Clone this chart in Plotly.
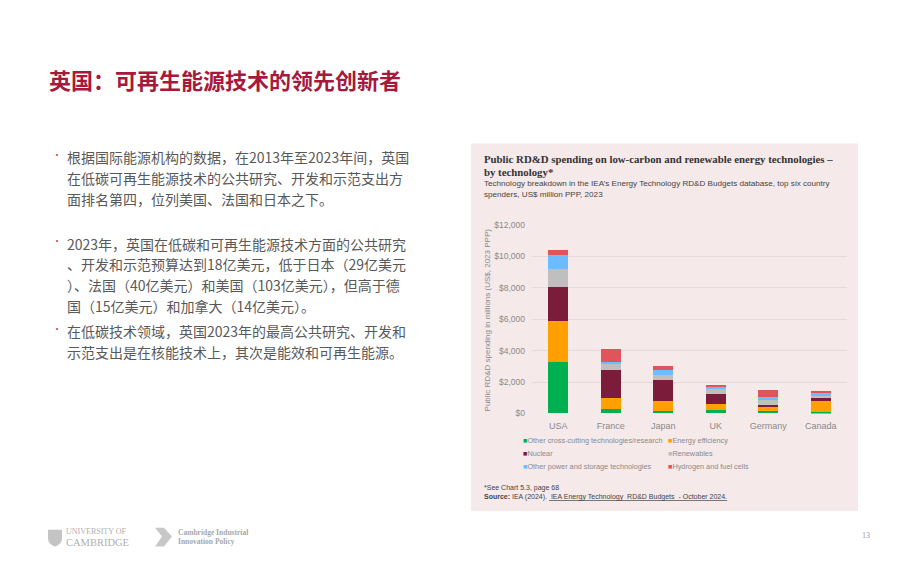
import plotly.graph_objects as go

W, H = 920, 575

countries = ["USA", "France", "Japan", "UK", "Germany", "Canada"]
series_names = [
    "Other cross-cutting technologies/research",
    "Energy efficiency",
    "Nuclear",
    "Renewables",
    "Other power and storage technologies",
    "Hydrogen and fuel cells",
]
series_colors = ["#00b050", "#ffa000", "#7b1c3a", "#bfbfbf", "#6cbcff", "#e0555a"]
other_cross = [3250, 270, 170, 250, 150, 100]
energy_eff = [2625, 690, 640, 350, 250, 690]
nuclear = [2185, 1830, 1290, 650, 140, 230]
renewables = [1150, 335, 360, 290, 290, 80]
other_power = [870, 145, 310, 130, 210, 170]
hydrogen = [320, 810, 230, 140, 460, 170]
series_values = [other_cross, energy_eff, nuclear, renewables, other_power, hydrogen]
y_ticks = [0, 2000, 4000, 6000, 8000, 10000, 12000]
y_tick_labels = ["$0", "$2,000", "$4,000", "$6,000", "$8,000", "$10,000", "$12,000"]


def px(x):
    return x / W


def py(y):
    return 1 - y / H


fig = go.Figure()
for name, color, vals in zip(series_names, series_colors, series_values):
    fig.add_trace(go.Bar(x=countries, y=vals, name=name, marker_color=color,
                         marker_line_width=0, showlegend=False))

SANS = "Liberation Sans, Arial, sans-serif"
CJK = "Noto Sans CJK SC"

fig.update_layout(
    width=W, height=H,
    margin=dict(l=0, r=0, t=0, b=0),
    paper_bgcolor="white",
    plot_bgcolor="rgba(0,0,0,0)",
    barmode="stack",
    bargap=0.62,
    xaxis=dict(domain=[px(532), px(847)], showgrid=False, zeroline=False,
               showline=False, ticks="", tickfont=dict(family=SANS, size=9, color="#8a8a8a"),
               ticklabelstandoff=6),
    yaxis=dict(domain=[py(415.7), py(223.7)], range=[0, 12000], tickvals=y_ticks,
               ticktext=y_tick_labels, showgrid=True, gridcolor="#e7dadc", gridwidth=1,
               zeroline=False, showline=False, ticks="",
               tickfont=dict(family=SANS, size=8.5, color="#8a8a8a"), ticklabelstandoff=6),
)

shapes = []
# chart panel background
shapes.append(dict(type="rect", xref="paper", yref="paper", x0=px(471), x1=px(858),
                   y0=py(515), y1=py(141), fillcolor="#f5e9ea", line_width=0, layer="below"))
# Cambridge shield logo approximation
shapes.append(dict(type="path", xref="paper", yref="paper",
                   path=f"M {px(48)} {py(534)} L {px(62)} {py(534)} L {px(62)} {py(543)} "
                        f"Q {px(62)} {py(549)} {px(55)} {py(551)} Q {px(48)} {py(549)} {px(48)} {py(543)} Z",
                   fillcolor="#c4c4c4", line_width=0))
# chevron logo
shapes.append(dict(type="path", xref="paper", yref="paper",
                   path=f"M {px(155)} {py(532)} L {px(164)} {py(532)} L {px(172)} {py(541)} "
                        f"L {px(164)} {py(551)} L {px(155)} {py(551)} L {px(162)} {py(541)} Z",
                   fillcolor="#c8c8c8", line_width=0))
fig.update_layout(shapes=shapes)

ann = []


def text(x, y, s, size, color, family=SANS, xanchor="left", yanchor="middle", **kw):
    ann.append(dict(x=px(x), y=py(y), xref="paper", yref="paper", text=s, showarrow=False,
                    xanchor=xanchor, yanchor=yanchor, align="left",
                    font=dict(size=size, color=color, family=family), **kw))


# slide title
text(47, 75, "<b>英国：可再生能源技术的领先创新者</b>", 22, "#a6193c", family=CJK)

# bullets
bullets = [
    (155, ["根据国际能源机构的数据，在2013年至2023年间，英国",
           "在低碳可再生能源技术的公共研究、开发和示范支出方",
           "面排名第四，位列美国、法国和日本之下。"]),
    (243, ["2023年，英国在低碳和可再生能源技术方面的公共研究",
           "、开发和示范预算达到18亿美元，低于日本（29亿美元",
           "）、法国（40亿美元）和美国（103亿美元），但高于德",
           "国（15亿美元）和加拿大（14亿美元）。"]),
    (332, ["在低碳技术领域，英国2023年的最高公共研究、开发和",
           "示范支出是在核能技术上，其次是能效和可再生能源。"]),
]
for y0, lines in bullets:
    text(50, y0 - 3, "·", 10, "#d05060", family=CJK)
    for i, line in enumerate(lines):
        text(65, y0 + i * 21, line, 14, "#595959", family=CJK)

# chart titles
SERIF = "Liberation Serif, DejaVu Serif, serif"
text(482, 157, "<b>Public RD&D spending on low-carbon and renewable energy technologies –</b>",
     10.8, "#333333", family=SERIF)
text(482, 170, "<b>by technology*</b>", 10.8, "#333333", family=SERIF)
text(482, 182, "Technology breakdown in the IEA’s Energy Technology RD&D Budgets database, top six country",
     8.1, "#444444")
text(482, 193, "spenders, US$ million PPP, 2023", 8.1, "#444444")

# y-axis title
ann.append(dict(x=px(487), y=py(321), xref="paper", yref="paper",
                text="Public RD&D spending in millions (US$, 2023 PPP)", showarrow=False,
                textangle=-90, xanchor="center", yanchor="middle",
                font=dict(size=8, color="#8a8a8a", family=SANS)))

# legend
legend_pos = [(521, 443), (666, 443), (521, 456), (666, 456), (521, 470), (666, 470)]
for (lx, ly), name, color in zip(legend_pos, series_names, series_colors):
    text(lx, ly, f'<span style="color:{color}">■</span>{name}', 7.3, "#8a8a8a")

# footnotes
text(482, 492, "*See Chart 5.3, page 68", 7, "#444444")
text(482, 501, "<b>Source:</b> IEA (2024). <u> IEA Energy Technology  RD&D Budgets  - October 2024.</u>",
     7, "#444444")

# footer logos text
text(64, 536, "UNIVERSITY OF", 8, "#b0b0b0", family=SERIF)
text(64, 547, "CAMBRIDGE", 10.5, "#b0b0b0", family=SERIF)
text(176, 537, "<b>Cambridge Industrial</b>", 7.5, "#a8a8a8", family=SERIF)
text(176, 546, "<b>Innovation Policy</b>", 7.5, "#a8a8a8", family=SERIF)
text(866, 540, "13", 8, "#999999", family=SERIF, xanchor="center")

fig.update_layout(annotations=ann)
fig.write_html("out.html")
